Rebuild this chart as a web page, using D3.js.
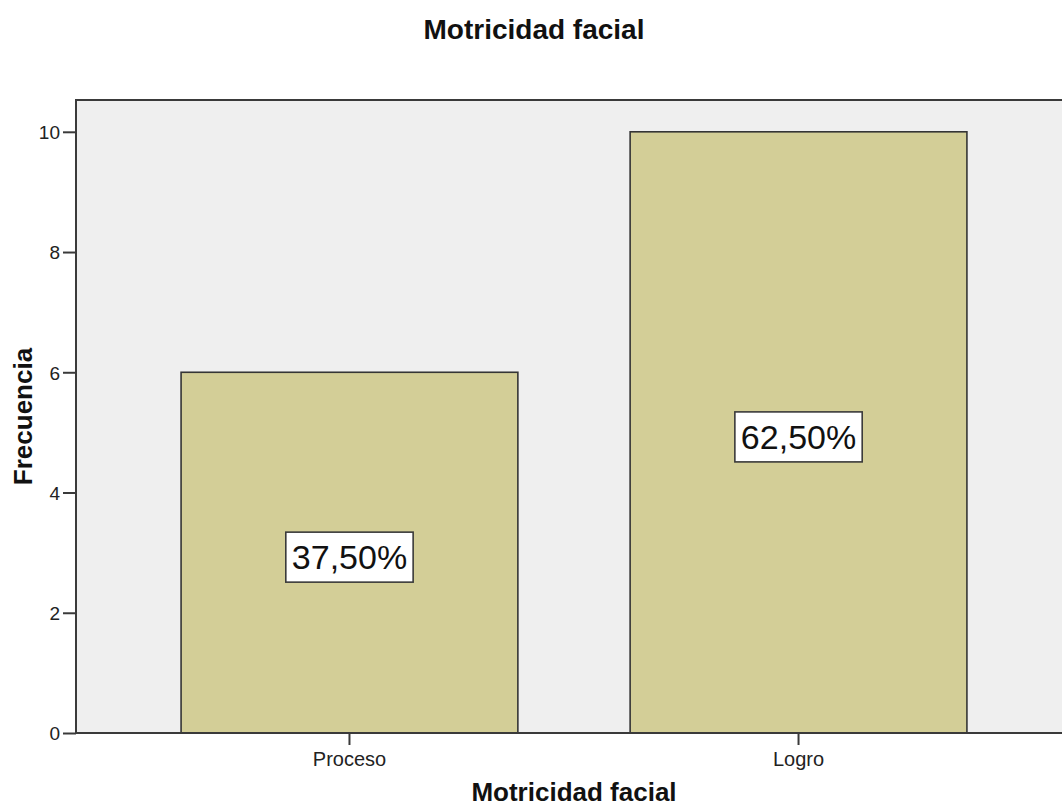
<!DOCTYPE html>
<html>
<head>
<meta charset="utf-8">
<script src="https://cdn.jsdelivr.net/npm/d3@7"></script>
<style>
  html, body { margin: 0; padding: 0; background: #ffffff; }
  svg { display: block; font-family: "Liberation Sans", Arial, sans-serif; }
</style>
</head>
<body>
<svg id="chart" width="1062" height="807"></svg>
<script>
// Frequency of each level of "Motricidad facial"
const categories = ["Proceso", "Logro"];
const counts = [6, 10];
const yTicks = [0, 2, 4, 6, 8, 10];
const chartTitle = "Motricidad facial";
const xTitle = "Motricidad facial";
const yTitle = "Frecuencia";

const total = d3.sum(counts);
const pctLabel = v => (v / total * 100).toFixed(2).replace(".", ",") + "%";

const svg = d3.select("#chart");
const plot = { left: 76, right: 1072, top: 100, bottom: 733 };

const x = d3.scaleBand()
  .domain(categories)
  .range([plot.left, plot.right])
  .paddingInner(0.25)
  .paddingOuter(0.234);

const y = d3.scaleLinear()
  .domain([0, 10])
  .range([plot.bottom, 131.8]);

// plot background
svg.append("rect")
  .attr("x", plot.left).attr("y", plot.top)
  .attr("width", plot.right - plot.left).attr("height", plot.bottom - plot.top)
  .attr("fill", "#efefef");

// bars
svg.selectAll("rect.bar")
  .data(categories)
  .join("rect")
  .attr("class", "bar")
  .attr("x", d => x(d))
  .attr("y", (d, i) => y(counts[i]))
  .attr("width", x.bandwidth())
  .attr("height", (d, i) => y(0) - y(counts[i]))
  .attr("fill", "#d3ce97")
  .attr("stroke", "#353535")
  .attr("stroke-width", 1.6);

// plot frame
svg.append("rect")
  .attr("x", plot.left).attr("y", plot.top)
  .attr("width", plot.right - plot.left).attr("height", plot.bottom - plot.top)
  .attr("fill", "none")
  .attr("stroke", "#3a3a3a")
  .attr("stroke-width", 2);

// y axis
const yAxis = svg.append("g")
  .attr("transform", `translate(${plot.left},0)`)
  .call(d3.axisLeft(y).tickValues(yTicks).tickSize(13).tickPadding(3).tickFormat(d3.format("d")));
yAxis.select(".domain").remove();
yAxis.selectAll(".tick line").attr("stroke", "#3a3a3a").attr("stroke-width", 2);
yAxis.selectAll(".tick text")
  .attr("fill", "#222")
  .style("font-size", "19px")
  .attr("dy", "0.36em");

// x axis
const xAxis = svg.append("g")
  .attr("transform", `translate(0,${plot.bottom})`)
  .call(d3.axisBottom(x).tickSize(12).tickPadding(6));
xAxis.select(".domain").remove();
xAxis.selectAll(".tick line").attr("stroke", "#3a3a3a").attr("stroke-width", 2);
xAxis.selectAll(".tick text")
  .attr("fill", "#222")
  .style("font-size", "20px")
  .attr("y", 33).attr("dy", 0);

// percentage labels in boxes
const labels = svg.selectAll("g.lbl")
  .data(categories)
  .join("g")
  .attr("class", "lbl")
  .attr("transform", (d, i) => `translate(${x(d) + x.bandwidth() / 2},${y(counts[i] / 2) + 4.5})`);

labels.each(function (d, i) {
  const g = d3.select(this);
  const t = g.append("text")
    .attr("text-anchor", "middle")
    .attr("dy", "0.36em")
    .attr("fill", "#111")
    .style("font-size", "34px")
    .text(pctLabel(counts[i]));
  const w = t.node().getBBox().width + 12;
  g.insert("rect", "text")
    .attr("x", -w / 2).attr("y", -25)
    .attr("width", w).attr("height", 50)
    .attr("fill", "#ffffff")
    .attr("stroke", "#3a3a3a")
    .attr("stroke-width", 1.6);
});

// titles
svg.append("text")
  .attr("x", 534).attr("y", 39)
  .attr("text-anchor", "middle")
  .attr("font-weight", "bold")
  .style("font-size", "28px")
  .attr("fill", "#111")
  .text(chartTitle);

svg.append("text")
  .attr("x", 574).attr("y", 801)
  .attr("text-anchor", "middle")
  .attr("font-weight", "bold")
  .style("font-size", "26px")
  .attr("fill", "#111")
  .text(xTitle);

svg.append("text")
  .attr("transform", `translate(32,${(plot.top + plot.bottom) / 2}) rotate(-90)`)
  .attr("text-anchor", "middle")
  .attr("font-weight", "bold")
  .style("font-size", "26px")
  .attr("fill", "#111")
  .text(yTitle);
</script>
</body>
</html>
